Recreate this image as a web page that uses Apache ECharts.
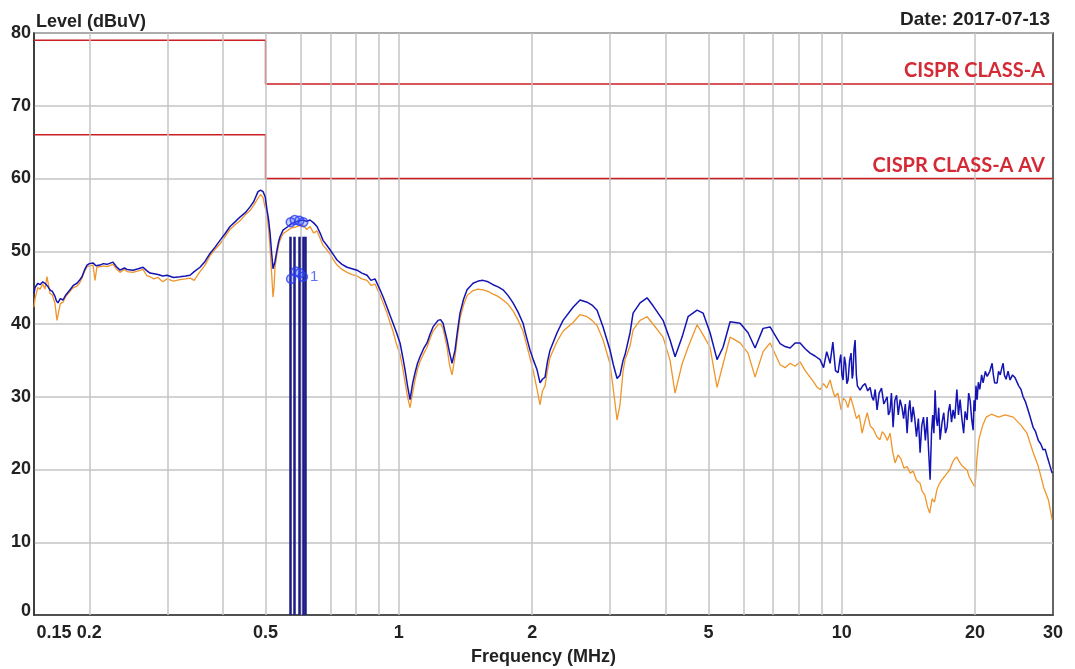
<!DOCTYPE html>
<html>
<head>
<meta charset="utf-8">
<script src="https://cdn.jsdelivr.net/npm/echarts@6/dist/echarts.min.js"></script>
<style>
  html, body { margin: 0; padding: 0; background: #fff; }
  #chart { width: 1075px; height: 669px; }
</style>
</head>
<body>
<div id="chart"></div>
<script>
// frequency (MHz) / level (dBuV)
const blueScan = [
  [0.150,44.2],[0.1508,45.0],[0.1530,45.6],[0.1548,45.4],[0.1570,45.8],[0.1588,45.6],[0.1610,45.2],
  [0.1630,44.7],[0.1650,44.5],[0.1673,43.8],[0.1685,43.2],[0.1699,42.9],[0.1720,43.5],[0.1744,43.3],
  [0.1770,44.0],[0.1809,44.7],[0.1840,45.3],[0.1876,45.6],[0.1900,46.0],[0.1925,46.5],[0.1950,47.4],
  [0.1976,48.1],[0.2000,48.3],[0.2039,48.4],[0.2070,48.0],[0.2114,48.1],[0.2150,48.3],[0.2193,48.2],
  [0.2262,48.5],[0.2300,47.9],[0.2346,47.4],[0.2400,47.7],[0.2433,47.5],[0.2510,47.4],[0.2580,47.6],
  [0.2644,47.8],[0.2700,47.3],[0.2742,47.0],[0.2800,46.9],[0.2858,46.8],[0.2930,46.6],[0.2995,46.7],
  [0.3100,46.4],[0.3205,46.5],[0.3300,46.6],[0.3376,46.7],[0.3450,47.2],[0.3556,47.8],[0.3650,48.6],
  [0.3746,49.7],[0.3850,50.6],[0.3946,51.5],[0.4050,52.4],[0.4157,53.4],[0.4260,54.0],[0.4378,54.7],
  [0.4500,55.3],[0.4612,56.1],[0.4700,56.8],[0.4808,58.2],[0.4870,58.4],[0.4935,58.2],[0.4990,57.5],
  [0.5038,55.7],[0.5080,54.3],[0.5118,52.5],[0.5160,49.8],[0.5198,47.6],[0.5225,47.4],[0.5252,48.6],
  [0.5307,50.2],[0.5350,51.3],[0.5391,52.0],[0.5475,52.9],[0.5620,53.4],[0.5720,53.8],[0.5828,54.0],
  [0.5950,54.2],[0.6075,54.3],[0.6190,54.1],[0.6301,54.3],[0.6420,53.9],[0.6534,53.4],[0.6640,52.5],
  [0.6741,51.5],[0.6860,50.9],[0.6991,50.2],[0.7120,49.5],[0.7250,48.8],[0.7440,48.2],[0.7638,47.8],
  [0.7840,47.6],[0.8045,47.4],[0.8250,47.0],[0.8474,46.7],[0.8650,46.0],[0.8834,46.2],[0.9067,44.7],
  [0.9230,43.6],[0.9403,42.3],[0.9550,41.2],[0.9701,40.1],[0.9880,38.8],[1.0061,37.4],[1.0200,35.5],
  [1.0326,33.7],[1.0460,31.5],[1.0598,29.6],[1.0740,31.8],[1.0877,33.3],[1.1020,34.6],[1.1163,35.5],
  [1.1370,36.6],[1.1577,37.4],[1.1760,38.6],[1.1944,39.6],[1.2259,40.5],[1.2420,40.6],[1.2582,40.1],
  [1.2846,37.8],[1.3000,36.2],[1.3184,34.6],[1.3392,36.4],[1.3560,39.0],[1.3744,41.5],[1.4000,43.4],
  [1.4254,44.7],[1.4706,45.6],[1.5100,45.9],[1.5491,46.0],[1.5900,45.8],[1.6318,45.4],[1.6750,45.1],
  [1.7190,44.7],[1.7650,43.9],[1.8107,42.9],[1.8600,41.6],[1.9074,40.1],[1.9400,38.3],[1.9780,36.4],
  [2.0140,35.0],[2.0514,33.7],[2.0836,31.9],[2.1100,32.4],[2.1385,32.7],[2.1650,34.8],[2.1948,36.4],
  [2.2762,38.8],[2.3484,40.5],[2.4737,42.3],[2.5654,43.3],[2.6605,43.0],[2.7300,42.6],[2.8026,41.9],
  [2.8914,39.6],[2.9986,36.4],[3.0500,34.4],[3.1098,32.5],[3.1587,33.0],[3.2083,35.0],[3.2419,35.8],
  [3.3273,38.8],[3.3796,41.5],[3.5049,42.9],[3.6348,43.6],[3.7499,42.5],[3.9501,40.5],[4.0965,37.8],
  [4.2044,35.5],[4.3602,38.2],[4.4984,41.0],[4.7139,41.9],[4.8633,41.5],[5.0436,38.8],[5.2305,35.1],
  [5.3963,36.8],[5.5964,40.3],[5.8950,40.1],[6.1454,38.8],[6.3732,36.7],[6.6440,39.4],[6.8903,39.6],
  [7.2581,37.3],[7.4500,36.9],[7.6457,36.7],[7.8500,37.4],[8.0538,37.4],[8.2700,36.6],[8.4837,36.0],
  [8.7000,35.6],[8.9367,35.1],[9.1000,34.0],[9.2500,36.2],[9.4137,34.6],[9.5500,37.5],[9.6800,33.6],
  [9.8136,33.3],[9.9000,35.0],[9.9500,35.8],[10.010,33.0],[10.072,32.3],[10.140,35.5],[10.200,34.6],
  [10.270,31.8],[10.337,32.3],[10.420,35.0],[10.500,36.0],[10.560,32.5],[10.600,33.0],[10.660,36.5],
  [10.721,37.8],[10.790,33.0],[10.850,31.5],[11.004,30.9],[11.150,31.5],[11.300,31.8],[11.450,30.8],
  [11.591,31.3],[11.700,30.0],[11.800,29.5],[11.900,31.0],[12.019,28.2],[12.150,30.5],[12.300,31.2],
  [12.450,29.0],[12.662,30.0],[12.750,27.5],[12.850,28.0],[12.950,30.5],[13.063,25.8],[13.180,29.5],
  [13.300,30.2],[13.420,27.5],[13.548,29.6],[13.680,28.5],[13.800,27.0],[13.920,29.0],[14.050,25.0],
  [14.150,28.0],[14.250,29.5],[14.380,26.5],[14.496,28.6],[14.620,27.0],[14.750,24.5],[14.900,27.0],
  [15.032,22.3],[15.160,26.0],[15.300,27.2],[15.450,24.0],[15.590,27.2],[15.700,23.0],[15.835,18.6],
  [15.950,25.0],[16.050,27.5],[16.150,25.0],[16.251,30.9],[16.350,27.0],[16.450,26.0],[16.560,28.5],
  [16.679,24.1],[16.850,26.5],[17.000,27.8],[17.150,25.0],[17.297,25.8],[17.420,28.0],[17.550,29.0],
  [17.700,26.5],[17.845,28.2],[18.000,27.0],[18.200,31.0],[18.350,27.5],[18.507,29.6],[18.680,27.0],
  [18.850,25.0],[19.000,28.0],[19.193,26.8],[19.350,30.5],[19.500,29.5],[19.650,27.0],[19.802,25.4],
  [19.900,29.5],[20.000,28.0],[20.100,31.5],[20.217,29.6],[20.350,32.0],[20.500,31.0],[20.700,33.0],
  [20.859,31.9],[21.100,33.5],[21.300,32.8],[21.600,33.5],[21.858,34.6],[22.000,33.0],[22.150,31.9],
  [22.434,31.9],[22.600,33.5],[22.800,33.0],[23.000,34.0],[23.145,34.6],[23.300,33.0],[23.500,32.4],
  [23.750,33.5],[24.004,32.3],[24.300,33.0],[24.636,32.6],[25.100,31.5],[25.400,31.0],[25.682,30.0],
  [26.000,29.3],[26.400,28.0],[26.700,27.0],[27.053,25.8],[27.400,25.2],[27.800,24.0],[28.150,23.5],
  [28.500,22.7],[28.800,22.8],[29.200,21.5],[29.500,20.6],[29.860,19.5]
];

const orangeScan = [
  [0.150,42.3],[0.1508,43.5],[0.1530,45.0],[0.1548,44.8],[0.1570,45.5],[0.1588,44.8],[0.1605,46.5],
  [0.1630,44.2],[0.1650,44.0],[0.1673,42.8],[0.1690,40.5],[0.1699,41.2],[0.1720,42.8],[0.1744,43.0],
  [0.1770,43.8],[0.1809,44.5],[0.1840,45.0],[0.1876,45.2],[0.1900,45.6],[0.1925,46.3],[0.1950,47.2],
  [0.1976,47.9],[0.2000,48.0],[0.2039,48.1],[0.2060,46.0],[0.2080,47.8],[0.2114,47.9],[0.2150,48.0],
  [0.2193,47.9],[0.2262,48.2],[0.2300,47.6],[0.2346,47.1],[0.2400,47.5],[0.2433,47.2],[0.2510,47.1],
  [0.2580,47.3],[0.2644,47.5],[0.2700,46.6],[0.2742,46.5],[0.2800,46.2],[0.2858,46.4],[0.2930,45.8],
  [0.2995,46.2],[0.3100,45.9],[0.3205,46.1],[0.3300,46.2],[0.3376,46.3],[0.3450,46.0],[0.3556,47.2],
  [0.3650,48.1],[0.3746,49.4],[0.3850,50.3],[0.3946,51.0],[0.4050,52.0],[0.4157,53.0],[0.4260,53.6],
  [0.4378,54.2],[0.4500,55.0],[0.4612,55.6],[0.4700,56.3],[0.4808,57.3],[0.4870,57.8],[0.4935,57.4],
  [0.4990,56.0],[0.5038,55.0],[0.5080,53.0],[0.5118,50.5],[0.5160,47.0],[0.5198,43.7],[0.5225,45.0],
  [0.5252,47.8],[0.5307,49.6],[0.5350,50.8],[0.5391,51.5],[0.5475,52.4],[0.5620,52.9],[0.5720,53.2],
  [0.5828,53.3],[0.5950,53.5],[0.6075,53.6],[0.6190,53.0],[0.6301,53.4],[0.6420,52.5],[0.6534,52.8],
  [0.6640,51.8],[0.6741,50.8],[0.6860,50.3],[0.6991,49.6],[0.7120,48.8],[0.7250,48.1],[0.7440,47.5],
  [0.7638,47.1],[0.7840,46.8],[0.8045,46.6],[0.8250,46.2],[0.8474,46.0],[0.8650,45.3],[0.8834,45.5],
  [0.9067,44.0],[0.9230,42.8],[0.9403,41.5],[0.9550,40.2],[0.9701,39.0],[0.9880,37.2],[1.0061,35.8],
  [1.0200,34.0],[1.0326,32.0],[1.0460,30.0],[1.0598,28.5],[1.0740,30.5],[1.0877,32.3],[1.1020,33.8],
  [1.1163,34.8],[1.1370,35.9],[1.1577,36.8],[1.1760,38.0],[1.1944,39.0],[1.2259,39.9],[1.2420,40.0],
  [1.2582,39.4],[1.2846,36.8],[1.3000,34.5],[1.3184,33.0],[1.3392,35.5],[1.3560,38.2],[1.3744,40.8],
  [1.4000,42.6],[1.4254,43.9],[1.4706,44.6],[1.5100,44.8],[1.5491,44.7],[1.5900,44.5],[1.6318,44.1],
  [1.6750,43.8],[1.7190,43.3],[1.7650,42.7],[1.8107,41.8],[1.8600,40.5],[1.9074,39.0],[1.9400,37.3],
  [1.9780,35.3],[2.0140,33.4],[2.0514,31.0],[2.0836,28.9],[2.1100,30.8],[2.1385,31.5],[2.1650,33.6],
  [2.1948,35.4],[2.2762,37.6],[2.3484,39.0],[2.4737,40.2],[2.5654,41.3],[2.6605,41.0],[2.7300,40.5],
  [2.8026,39.8],[2.8914,37.8],[2.9986,34.5],[3.0500,31.0],[3.1098,26.8],[3.1587,29.0],[3.2083,33.5],
  [3.2419,35.1],[3.3273,37.0],[3.3796,39.2],[3.5049,40.5],[3.6348,41.0],[3.7499,40.0],[3.9501,38.2],
  [4.0965,35.0],[4.2044,30.5],[4.3602,34.5],[4.4984,36.8],[4.7139,39.9],[4.8633,38.5],[5.0436,36.8],
  [5.2305,31.3],[5.3963,34.5],[5.5964,38.2],[5.8950,37.4],[6.1454,36.0],[6.3732,32.7],[6.6440,36.2],
  [6.8903,37.4],[7.2581,34.4],[7.4500,34.0],[7.6457,34.6],[7.8500,34.2],[8.0538,34.8],[8.2700,33.6],
  [8.4837,32.7],[8.6500,32.0],[8.8000,31.3],[8.9500,31.0],[9.1000,31.8],[9.2500,31.2],[9.4137,32.3],
  [9.5300,31.0],[9.6500,30.0],[9.8000,30.5],[9.9700,28.2],[10.080,29.8],[10.200,29.5],[10.330,28.5],
  [10.470,30.0],[10.640,28.5],[10.800,27.0],[10.950,27.5],[11.120,25.0],[11.270,26.5],[11.420,27.8],
  [11.600,26.0],[11.800,25.5],[12.000,24.5],[12.200,24.1],[12.350,25.2],[12.500,24.8],[12.680,24.0],
  [12.860,25.0],[13.030,22.5],[13.200,20.9],[13.400,22.0],[13.600,21.5],[13.820,20.2],[14.050,20.4],
  [14.280,19.5],[14.500,19.8],[14.760,18.5],[15.030,18.1],[15.200,17.0],[15.400,16.5],[15.600,15.0],
  [15.800,14.0],[16.000,16.0],[16.200,15.5],[16.400,17.2],[16.600,18.0],[16.800,18.5],[17.050,19.0],
  [17.300,19.5],[17.550,20.0],[17.800,21.0],[18.000,21.5],[18.200,21.7],[18.450,21.0],[18.700,20.5],
  [18.950,20.2],[19.200,19.9],[19.400,19.0],[19.600,18.5],[19.800,18.0],[20.000,17.6],[20.200,21.5],
  [20.400,24.1],[20.800,26.0],[21.200,27.2],[21.800,27.6],[22.600,27.2],[23.400,27.5],[24.400,27.2],
  [25.300,26.2],[26.200,25.0],[27.000,22.5],[27.800,20.4],[28.600,17.5],[29.300,15.8],[29.860,13.1]
];

// CISPR class A limits
const limitQP = [[0.15, 79], [0.5, 79], [0.5, 73], [30, 73]];
const limitAV = [[0.15, 66], [0.5, 66], [0.5, 60], [30, 60]];

// marker positions
const markerFreq = [0.568, 0.580, 0.595, 0.6075, 0.615];
const markerTop = [52, 52, 52, 52, 52];
const qpMarkers = [[0.570, 54.0], [0.582, 54.3], [0.596, 54.2], [0.608, 54.0]];
const avMarkers = [[0.571, 46.2], [0.585, 47.2], [0.597, 47.0], [0.607, 46.5]];

const xTickLabels = [0.15, 0.2, 0.5, 1, 2, 5, 10, 20, 30];
const xGridFreq = [0.2, 0.3, 0.4, 0.5, 0.6, 0.7, 0.8, 0.9, 1, 2, 3, 4, 5, 6, 7, 8, 9, 10, 20];

const textFont = "'Liberation Sans', Arial, sans-serif";
const limitFont = "Lato, 'Open Sans', sans-serif";
const limitLabel = { fontFamily: limitFont, fontSize: 20, fontWeight: "bold", color: "#d42a36" };
const boldText = { fontFamily: textFont, fontSize: 18, fontWeight: "bold", color: "#222" };

function limitSeries(name, data) {
  const last = data[data.length - 1];
  return {
    name: name,
    type: "line",
    data: data,
    showSymbol: false,
    symbol: "none",
    lineStyle: { color: "#cc1f24", width: 1.5 },
    z: 3,
    markPoint: {
      silent: true,
      symbol: "circle",
      symbolSize: 0,
      label: Object.assign({ show: true, position: [-8, -3], align: "right", verticalAlign: "bottom", formatter: name }, limitLabel),
      data: [{ coord: last }],
    },
  };
}

const chart = echarts.init(document.getElementById("chart"), null, { renderer: "canvas" });

chart.setOption({
  animation: false,
  backgroundColor: "#fff",
  title: [
    {
      text: "Level (dBuV)",
      left: 31,
      top: 8,
      textStyle: boldText,
    },
    {
      text: "Date: 2017-07-13",
      right: 20,
      top: 5,
      textStyle: Object.assign({}, boldText, { fontSize: 19 }),
    },
  ],
  grid: {
    left: 34, right: 22, top: 33, bottom: 54,
    containLabel: false,
    outerBoundsMode: "none",
    show: true, borderColor: "#333", borderWidth: 1.5,
  },
  xAxis: {
    type: "log",
    min: 0.15,
    max: 30,
    name: "Frequency (MHz)",
    nameLocation: "middle",
    nameGap: 33,
    nameTextStyle: boldText,
    axisLine: { show: true, lineStyle: { color: "#333", width: 1.5 } },
    axisTick: { show: false },
    splitLine: { show: false },
    axisLabel: Object.assign({}, boldText, {
      customValues: xTickLabels,
      margin: 9,
      formatter: (v) => (Math.abs(v - 0.15) < 1e-6 ? "{first|0.15}" : String(v)),
      rich: { first: Object.assign({}, boldText, { padding: [0, 0, 0, 40] }) },
    }),
  },
  yAxis: {
    type: "value",
    min: 0,
    max: 80,
    interval: 10,
    axisLine: { show: true, lineStyle: { color: "#333", width: 1.5 } },
    axisTick: { show: false },
    splitLine: { show: true, lineStyle: { color: "#c4c4c4", width: 1.5 } },
    axisLabel: Object.assign({}, boldText, {
      margin: 3,
      formatter: (v) => (v === 0 ? "{zero|0}" : String(v)),
      rich: { zero: Object.assign({}, boldText, { padding: [0, 0, 8, 0] }) },
    }),
  },
  series: [
    {
      name: "grid",
      type: "line",
      data: [],
      z: 1,
      silent: true,
      markLine: {
        silent: true,
        symbol: "none",
        label: { show: false },
        lineStyle: { color: "#c4c4c4", width: 1.5, type: "solid" },
        data: xGridFreq.map((f) => ({ xAxis: f })),
      },
    },
    limitSeries("CISPR CLASS-A", limitQP),
    limitSeries("CISPR CLASS-A AV", limitAV),
    {
      name: "AV",
      type: "line",
      data: orangeScan,
      showSymbol: false,
      symbol: "none",
      lineStyle: { color: "#f0952a", width: 1.3 },
      z: 4,
    },
    {
      name: "QP",
      type: "line",
      data: blueScan,
      showSymbol: false,
      symbol: "none",
      lineStyle: { color: "#1414b4", width: 1.5 },
      z: 5,
      markLine: {
        silent: true,
        symbol: "none",
        label: { show: false },
        lineStyle: { color: "#1c1c86", width: 2.5, type: "solid" },
        data: markerFreq.map((f, i) => [{ coord: [f, 0] }, { coord: [f, markerTop[i]] }]),
      },
    },
    {
      name: "QP markers",
      type: "scatter",
      data: qpMarkers,
      symbol: "circle",
      symbolSize: 9,
      itemStyle: { color: "rgba(60,90,255,0.35)", borderColor: "#2a3cf0", borderWidth: 1.5 },
      z: 6,
    },
    {
      name: "AV markers",
      type: "scatter",
      data: avMarkers.map((p, i) =>
        i === avMarkers.length - 1
          ? { value: p, label: { show: true, position: "right", distance: 2, formatter: "1" } }
          : p
      ),
      symbol: "circle",
      symbolSize: 9,
      itemStyle: { color: "rgba(60,90,255,0.35)", borderColor: "#2a3cf0", borderWidth: 1.5 },
      label: { fontFamily: textFont, fontSize: 15, color: "#3a4cf0" },
      z: 6,
    },
  ],
});
</script>
</body>
</html>
